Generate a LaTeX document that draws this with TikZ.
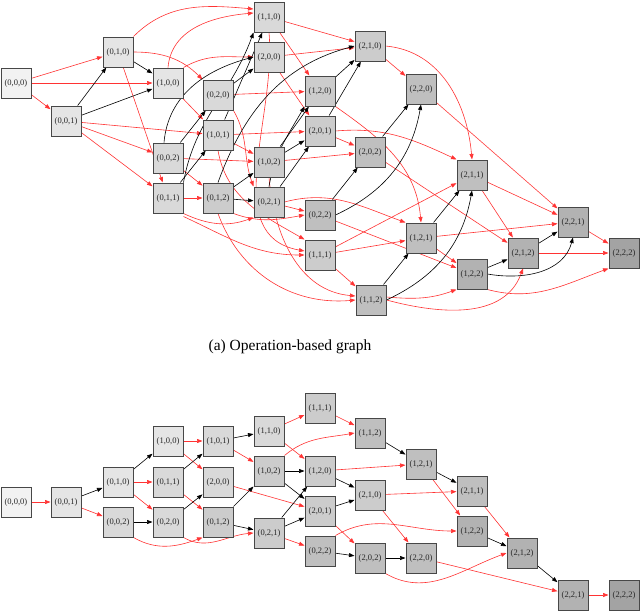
\documentclass[tikz,border=0pt]{standalone}
\usepackage{fontspec}
\setmainfont{Liberation Serif}
\usetikzlibrary{arrows.meta}
\definecolor{ered}{RGB}{255,51,51}
\pgfdeclarelayer{edgelayer}
\pgfsetlayers{edgelayer,main}
\begin{document}
\begin{tikzpicture}[x=1pt,y=1pt,
  st/.style={draw=black!72, line width=1pt, minimum width=30pt, minimum height=30pt, inner sep=0pt, font=\fontsize{8.5}{9}\selectfont, text=black!85},
  s0/.style={st, fill=black!5},
  s1/.style={st, fill=black!10},
  s2/.style={st, fill=black!15},
  s3/.style={st, fill=black!20},
  s4/.style={st, fill=black!25},
  s5/.style={st, fill=black!30},
  s6/.style={st, fill=black!36},
  re/.style={draw=ered, line width=0.6pt, -{Triangle[length=5.5pt,width=4pt]}},
  bk/.style={draw=black, line width=0.6pt, -{Triangle[length=5.5pt,width=4pt]}},
  captxt/.style={font=\fontsize{15.5}{18}\selectfont}
]
\useasboundingbox (0,0) rectangle (640,-611);

% ---------- (a) top graph ----------
\node[s0] (a000) at (16,-83) {(0,0,0)};
\node[s1] (a001) at (66,-121) {(0,0,1)};
\node[s1] (a010) at (118,-52) {(0,1,0)};
\node[s1] (a100) at (168,-83) {(1,0,0)};
\node[s2] (a002) at (168,-158) {(0,0,2)};
\node[s2] (a011) at (168,-198) {(0,1,1)};
\node[s2] (a020) at (218,-95) {(0,2,0)};
\node[s2] (a101) at (218,-135) {(1,0,1)};
\node[s3] (a012) at (218,-198) {(0,1,2)};
\node[s2] (a110) at (269,-17) {(1,1,0)};
\node[s2] (a200) at (269,-57) {(2,0,0)};
\node[s3] (a102) at (269,-162) {(1,0,2)};
\node[s3] (a021) at (269,-202) {(0,2,1)};
\node[s3] (a120) at (320,-91) {(1,2,0)};
\node[s3] (a201) at (320,-131) {(2,0,1)};
\node[s4] (a022) at (320,-215) {(0,2,2)};
\node[s3] (a111) at (320,-255) {(1,1,1)};
\node[s3] (a210) at (370,-46) {(2,1,0)};
\node[s4] (a202) at (370,-152) {(2,0,2)};
\node[s4] (a112) at (371,-300) {(1,1,2)};
\node[s4] (a220) at (421,-89) {(2,2,0)};
\node[s4] (a121) at (421,-238) {(1,2,1)};
\node[s4] (a211) at (472,-175) {(2,1,1)};
\node[s5] (a122) at (472,-274) {(1,2,2)};
\node[s5] (a212) at (523,-253) {(2,1,2)};
\node[s5] (a221) at (573,-222) {(2,2,1)};
\node[s6] (a222) at (624,-253) {(2,2,2)};

\begin{pgfonlayer}{edgelayer}
% red straight
\foreach \s/\t in {000/001,000/010,000/100,001/002,001/011,001/101,010/011,100/101,
  002/102,002/012,011/012,020/120,101/201,101/102,110/210,110/120,200/210,200/201,
  021/022,102/202,111/211,111/121,111/112,201/202,210/220,022/122,202/212,220/221,
  121/221,121/122,211/221,211/212,212/222,221/222}
  \draw[re] (a\s) -- (a\t);
% red curved
\draw[re] (a010.east) to[out=0,in=135] (a020.north west);
\draw[re] (a010.north east) to[out=45,in=175] ([yshift=8pt]a110.west);
\draw[re] (a100.north) to[out=85,in=185] ([yshift=4pt]a110.west);
\draw[re] (a100.north east) to[out=30,in=180] (a200.west);
\draw[re] (a011.south east) to[out=-25,in=200] (a021.south west);
\draw[re] ([yshift=-3pt]a011.south east) to[out=-25,in=180] (a111.west);
\draw[re] (a101.south) to[out=-80,in=150] (a111.north west);
\draw[re] (a110.south) to[out=-85,in=170] ([yshift=4pt]a111.west);
\draw[re] (a020.south east) to[out=-60,in=110] (a021.north west);
\draw[re] (a102.south) to[out=-85,in=175] ([yshift=4pt]a112.west);
\draw[re] (a012.south) to[out=-70,in=185] (a112.west);
\draw[re] (a012.south east) to[out=-20,in=190] (a022.west);
\draw[re] (a021.east) to[out=15,in=160] (a121.north west);
\draw[re] (a120.south east) to[out=-35,in=95] (a121.north);
\draw[re] (a201.east) to[out=5,in=155] (a211.north west);
\draw[re] (a210.east) to[out=-5,in=95] (a211.north);
\draw[re] (a112.east) to[out=-15,in=250] (a212.south);
\draw[re] ([yshift=3pt]a112.east) to[out=-5,in=200] (a122.south west);
\draw[re] (a122.south east) to[out=-15,in=200] (a222.south west);
% black straight
\foreach \s/\t in {001/010,001/100,010/100,002/020,020/200,011/101,101/110,012/102,
  012/021,021/201,102/120,102/201,120/210,201/210,022/202,202/220,112/121,121/211,
  122/212,212/221}
  \draw[bk] (a\s) -- (a\t);
% black curved
\draw[bk] ([xshift=-4pt]a002.north) to[out=85,in=195] (a200.west);
\draw[bk] (a011.north east) to[out=80,in=250] (a110.south west);
\draw[bk] (a012.north) to[out=70,in=195] (a210.west);
\draw[bk] (a021.north) to[out=80,in=240] (a120.south west);
\draw[bk] (a022.east) to[out=25,in=260] (a220.south);
\draw[bk] (a112.east) to[out=25,in=260] (a211.south);
\draw[bk] (a122.east) to[out=-10,in=255] (a221.south);
\end{pgfonlayer}

\node[captxt] (capa) at (290,-347) {(a) Operation-based graph};

% ---------- (b) bottom graph ----------
\node[s0] (b000) at (16,-502) {(0,0,0)};
\node[s1] (b001) at (66,-502) {(0,0,1)};
\node[s1] (b010) at (118,-482) {(0,1,0)};
\node[s2] (b002) at (118,-522) {(0,0,2)};
\node[s1] (b100) at (168,-441) {(1,0,0)};
\node[s2] (b011) at (168,-482) {(0,1,1)};
\node[s2] (b020) at (168,-522) {(0,2,0)};
\node[s2] (b101) at (218,-441) {(1,0,1)};
\node[s2] (b200) at (218,-482) {(2,0,0)};
\node[s3] (b012) at (218,-522) {(0,1,2)};
\node[s2] (b110) at (269,-431) {(1,1,0)};
\node[s3] (b102) at (269,-471) {(1,0,2)};
\node[s3] (b021) at (269,-533) {(0,2,1)};
\node[s3] (b111) at (320,-408) {(1,1,1)};
\node[s3] (b120) at (320,-471) {(1,2,0)};
\node[s3] (b201) at (320,-511) {(2,0,1)};
\node[s4] (b022) at (320,-551) {(0,2,2)};
\node[s4] (b112) at (370,-433) {(1,1,2)};
\node[s3] (b210) at (370,-495) {(2,1,0)};
\node[s4] (b202) at (370,-558) {(2,0,2)};
\node[s4] (b121) at (421,-464) {(1,2,1)};
\node[s4] (b220) at (421,-558) {(2,2,0)};
\node[s4] (b211) at (472,-491) {(2,1,1)};
\node[s5] (b122) at (472,-531) {(1,2,2)};
\node[s5] (b212) at (522,-553) {(2,1,2)};
\node[s5] (b221) at (573,-595) {(2,2,1)};
\node[s6] (b222) at (624,-595) {(2,2,2)};

\begin{pgfonlayer}{edgelayer}
\foreach \s/\t in {000/001,001/002,010/020,010/011,100/200,100/101,011/012,101/102,
  200/201,110/111,110/120,021/022,111/112,120/121,201/202,210/220,210/211,121/122,
  220/221,211/212,221/222}
  \draw[re] (b\s) -- (b\t);
\draw[re] (b002.south east) to[out=-30,in=200] (b012.south west);
\draw[re] (b020.south east) to[out=-30,in=185] (b021.west);
\draw[re] (b102.north east) to[out=40,in=190] (b112.west);
\draw[re] (b022.north east) to[out=30,in=180] (b122.west);
\draw[re] (b202.south east) to[out=-30,in=200] (b212.west);
\foreach \s/\t in {001/010,010/100,002/020,020/200,011/101,101/110,012/102,012/021,
  102/120,102/201,021/201,021/120,120/210,201/210,022/202,202/220,112/121,121/211,
  122/212,212/221}
  \draw[bk] (b\s) -- (b\t);
\end{pgfonlayer}
\end{tikzpicture}
\end{document}
